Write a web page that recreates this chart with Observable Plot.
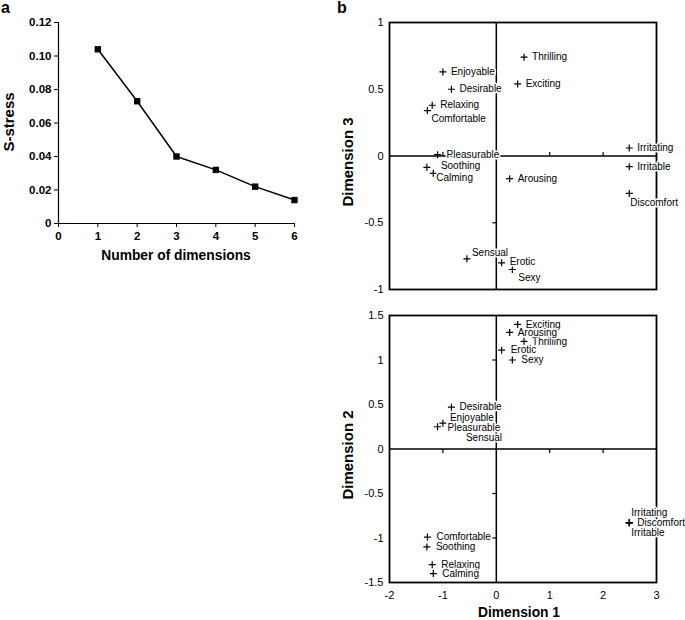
<!DOCTYPE html>
<html><head><meta charset="utf-8">
<script src="https://cdn.jsdelivr.net/npm/d3@7"></script>
<script src="https://cdn.jsdelivr.net/npm/@observablehq/plot@0.6"></script>
<style>
body{margin:0;background:#fff;font-family:"Liberation Sans",Arial,sans-serif;}
#wrap{position:relative;width:685px;height:620px;overflow:hidden;background:#fff;}
.ttl{position:absolute;font-weight:bold;font-size:13.8px;line-height:1;white-space:nowrap;color:#000;}
.vt{font-size:15px;}
.rot{transform:translate(-50%,-50%) rotate(-90deg);}
.hc{transform:translate(-50%,-50%);}
.letter{position:absolute;font-weight:bold;font-size:16px;line-height:1;}
</style></head>
<body><div id="wrap"></div>
<script>
// ---- Panel a data ----
const nDims = [1, 2, 3, 4, 5, 6];
const sStress = [0.104, 0.073, 0.040, 0.032, 0.022, 0.014];
const aXTicks = [0, 1, 2, 3, 4, 5, 6];
const aYTicks = [0, 0.02, 0.04, 0.06, 0.08, 0.10, 0.12];

// ---- Panel b data (MDS coordinates) ----
const terms = ["Thrilling","Enjoyable","Exciting","Desirable","Relaxing","Comfortable","Irritating","Pleasurable","Soothing","Calming","Arousing","Irritable","Discomfort","Sensual","Erotic","Sexy"];
const dim1 = [0.52, -1.00, 0.40, -0.84, -1.20, -1.29, 2.49, -1.10, -1.30, -1.18, 0.25, 2.49, 2.49, -0.55, 0.10, 0.30];
const dim2 = [1.21, 0.29, 1.40, 0.47, -1.30, -0.99, -0.83, 0.25, -1.10, -1.40, 1.31, -0.83, -0.83, 0.22, 1.11, 1.00];
const dim3 = [0.74, 0.63, 0.54, 0.50, 0.38, 0.34, 0.06, 0.01, -0.085, -0.13, -0.17, -0.08, -0.28, -0.77, -0.80, -0.85];
const d1Ticks = [-2, -1, 0, 1, 2, 3];
const d3Ticks = [-1, -0.5, 0, 0.5, 1];
const d2Ticks = [-1.5, -1, -0.5, 0, 0.5, 1, 1.5];

// ---- label placement (layout only) ----
const offTop = {Thrilling:[8,0],Enjoyable:[8,0],Exciting:[8,0],Desirable:[8,0],Relaxing:[8,0],Comfortable:[4,8],Irritating:[8,0],Pleasurable:[9,0],Soothing:[14,-2],Calming:[3,4],Arousing:[8,0],Irritable:[8,0],Discomfort:[1,9],Sensual:[5,-6],Erotic:[8,-1],Sexy:[6,8]};
const offBot = {Thrilling:[8,0],Enjoyable:[7,-5],Exciting:[8,0],Desirable:[8,0],Relaxing:[9,0],Comfortable:[9,0],Irritating:[2,-10],Pleasurable:[10,1],Soothing:[9,0],Calming:[9,0],Arousing:[8,0],Irritable:[2,10],Discomfort:[8,0],Sensual:[-1,8],Erotic:[9,0],Sexy:[9,0]};

const wrap = document.getElementById("wrap");
function place(el, left, top){ el.style.position="absolute"; el.style.left=left+"px"; el.style.top=top+"px"; wrap.appendChild(el); }
function title(text, x, y, rotate){ const d=document.createElement("div"); d.className="ttl "+(rotate?"rot vt":"hc"); d.textContent=text; d.style.left=x+"px"; d.style.top=y+"px"; wrap.appendChild(d); }
function letter(text,x,y){ const d=document.createElement("div"); d.className="letter"; d.textContent=text; d.style.left=x+"px"; d.style.top=y+"px"; wrap.appendChild(d); }

// custom symbols
const plusSym = {draw(ctx){ ctx.moveTo(-3.5,0); ctx.lineTo(3.5,0); ctx.moveTo(0,-3.5); ctx.lineTo(0,3.5); }};
const upTick = {draw(ctx){ ctx.moveTo(0,0); ctx.lineTo(0,-4); }};
const downTick = {draw(ctx){ ctx.moveTo(0,0); ctx.lineTo(0,4); }};
const leftTick = {draw(ctx){ ctx.moveTo(0,0); ctx.lineTo(-4,0); }};

// ---- Panel a ----
const aData = nDims.map((n,i)=>({n, s:sStress[i]}));
const plotA = Plot.plot({
  width: 300, height: 262,
  marginLeft: 58, marginRight: 6, marginTop: 22, marginBottom: 39,
  style: {fontFamily: "'Liberation Sans', Arial, sans-serif", fontSize: "11.5px", fontWeight: "bold", background: "transparent", color:"#000"},
  x: {domain: [0, 6], ticks: aXTicks, tickFormat: d3.format("d"), tickSize: 4, tickPadding: 4, label: null},
  y: {domain: [0, 0.12], ticks: aYTicks, tickFormat: d => d === 0 ? "0" : d.toFixed(2), tickSize: 4, tickPadding: 3, label: null},
  marks: [
    Plot.ruleY([0], {stroke: "#000", strokeWidth: 1.2}),
    Plot.ruleX([0], {stroke: "#000", strokeWidth: 1.2}),
    Plot.line(aData, {x: "n", y: "s", stroke: "#000", strokeWidth: 1.5}),
    Plot.dot(aData, {x: "n", y: "s", symbol: "square", r: 3.6, fill: "#000", stroke: "none"})
  ]
});
place(plotA, 0, 0);
letter("a", 1, 0);
title("S-stress", 8, 122, true);
title("Number of dimensions", 176, 256, false);

// ---- Panel b ----
const pts = terms.map((t,i)=>({term:t, d1:dim1[i], d2:dim2[i], d3:dim3[i]}));
const fontB = {fontFamily: "'Liberation Sans', Arial, sans-serif", fontSize: "11px", background: "transparent", color:"#000"};

function labelMarks(yKey, off){
  return pts.map(p => Plot.text([p], {x: "d1", y: yKey, text: "term", textAnchor: "start",
    dx: off[p.term][0], dy: off[p.term][1], fontSize: 10, fill: "#000",
    stroke: "#fff", strokeWidth: 3, fontFamily: "'Liberation Sans', Arial, sans-serif"}));
}

const plotTop = Plot.plot({
  width: 355, height: 300,
  marginLeft: 59, marginRight: 29, marginTop: 22, marginBottom: 11,
  style: fontB,
  x: {domain: [-2, 3], axis: null},
  y: {domain: [-1, 1], ticks: d3Ticks, tickFormat: d => String(d), tickSize: 0, tickPadding: 6, label: null},
  marks: [
    Plot.ruleX([0], {stroke: "#000", strokeWidth: 1.5}),
    Plot.ruleY([0], {stroke: "#000", strokeWidth: 1.5}),
    Plot.dot([-1, 1, 2], {x: d => d, y: () => 0, symbol: upTick, stroke: "#000", fill: "none", strokeWidth: 1.2}),
    Plot.dot([0.5, -0.5], {x: () => 0, y: d => d, symbol: leftTick, stroke: "#000", fill: "none", strokeWidth: 1.2}),
    Plot.frame({stroke: "#000", strokeWidth: 1.8}),
    Plot.dot(pts, {x: "d1", y: "d3", symbol: plusSym, stroke: "#000", fill: "none", strokeWidth: 1.2}),
    ...labelMarks("d3", offTop)
  ]
});
place(plotTop, 330, 0);

const plotBot = Plot.plot({
  width: 355, height: 320,
  marginLeft: 59, marginRight: 29, marginTop: 15, marginBottom: 38,
  style: fontB,
  x: {domain: [-2, 3], ticks: d1Ticks, tickFormat: d => String(d), tickSize: 0, tickPadding: 9, label: null},
  y: {domain: [-1.5, 1.5], ticks: d2Ticks, tickFormat: d => String(d), tickSize: 0, tickPadding: 6, label: null},
  marks: [
    Plot.ruleX([0], {stroke: "#000", strokeWidth: 1.5}),
    Plot.ruleY([0], {stroke: "#000", strokeWidth: 1.5}),
    Plot.dot([-1, 1, 2], {x: d => d, y: () => 0, symbol: downTick, stroke: "#000", fill: "none", strokeWidth: 1.2}),
    Plot.dot([1, 0.5, -0.5, -1], {x: () => 0, y: d => d, symbol: leftTick, stroke: "#000", fill: "none", strokeWidth: 1.2}),
    Plot.frame({stroke: "#000", strokeWidth: 1.8}),
    Plot.dot(pts, {x: "d1", y: "d2", symbol: plusSym, stroke: "#000", fill: "none", strokeWidth: 1.2}),
    ...labelMarks("d2", offBot)
  ]
});
place(plotBot, 330, 300);

letter("b", 337, 0);
title("Dimension 3", 347, 162, true);
title("Dimension 2", 347, 455, true);
title("Dimension 1", 519, 613, false);
</script>
</body></html>
